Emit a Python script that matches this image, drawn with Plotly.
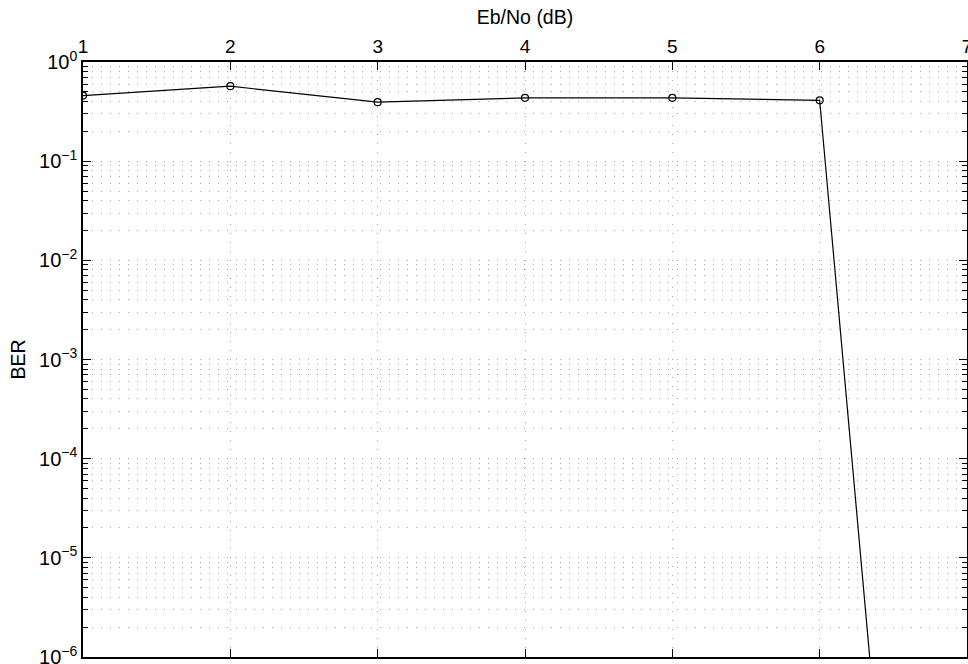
import plotly.graph_objects as go

ebno_db = [1, 2, 3, 4, 5, 6, 7]
ber = [0.459, 0.570, 0.393, 0.435, 0.435, 0.411, 1.2e-17]

y_tick_vals = [1e-6, 1e-5, 1e-4, 1e-3, 1e-2, 1e-1, 1e0]
y_tick_text = ["10<sup>−6</sup>", "10<sup>−5</sup>", "10<sup>−4</sup>", "10<sup>−3</sup>",
               "10<sup>−2</sup>", "10<sup>−1</sup>", "10<sup>0</sup>"]
x_tick_vals = [1, 2, 3, 4, 5, 6, 7]

font_family = "Liberation Sans, Arial, Helvetica, sans-serif"

fig = go.Figure()
fig.add_trace(go.Scatter(
    x=ebno_db, y=ber, mode="lines+markers",
    line=dict(color="black", width=1.2),
    marker=dict(symbol="circle-open", size=7, color="black", line=dict(width=1.2)),
    showlegend=False,
))

grid_color = "#a8a8a8"
grid_dash = "1px,8px"
fig.update_layout(
    width=968, height=664,
    margin=dict(l=83, r=1, t=62, b=7),
    paper_bgcolor="white", plot_bgcolor="white",
    font=dict(family=font_family, color="black", size=18),
    xaxis=dict(
        side="top", range=[1, 7], tickvals=x_tick_vals, automargin=False,
        ticklabeloverflow="allow",
        ticks="inside", ticklen=8, tickcolor="black", tickwidth=1,
        showline=True, linecolor="black", linewidth=1.5, mirror="ticks",
        showgrid=True, gridcolor=grid_color, griddash=grid_dash, gridwidth=1,
        zeroline=False,
        title=dict(text="Eb/No (dB)", font=dict(size=19.5), standoff=6),
        tickfont=dict(size=19),
    ),
    yaxis=dict(
        type="log", range=[-6, 0], tickvals=y_tick_vals, ticktext=y_tick_text,
        automargin=False, ticklabeloverflow="allow",
        ticks="inside", ticklen=8, tickcolor="black", tickwidth=1,
        showline=True, linecolor="black", linewidth=1.5, mirror="ticks",
        showgrid=True, gridcolor=grid_color, griddash=grid_dash, gridwidth=1,
        zeroline=False,
        minor=dict(dtick="D1", ticks="inside", ticklen=5, tickcolor="black",
                   showgrid=True, gridcolor=grid_color, griddash=grid_dash, gridwidth=1),
        title=dict(text="BER", font=dict(size=19.5), standoff=8),
        tickfont=dict(size=20),
    ),
)

fig.write_html(
    "out.html",
    config={"displayModeBar": False},
    post_script="document.body.style.margin='0';document.body.style.overflow='hidden';",
)
